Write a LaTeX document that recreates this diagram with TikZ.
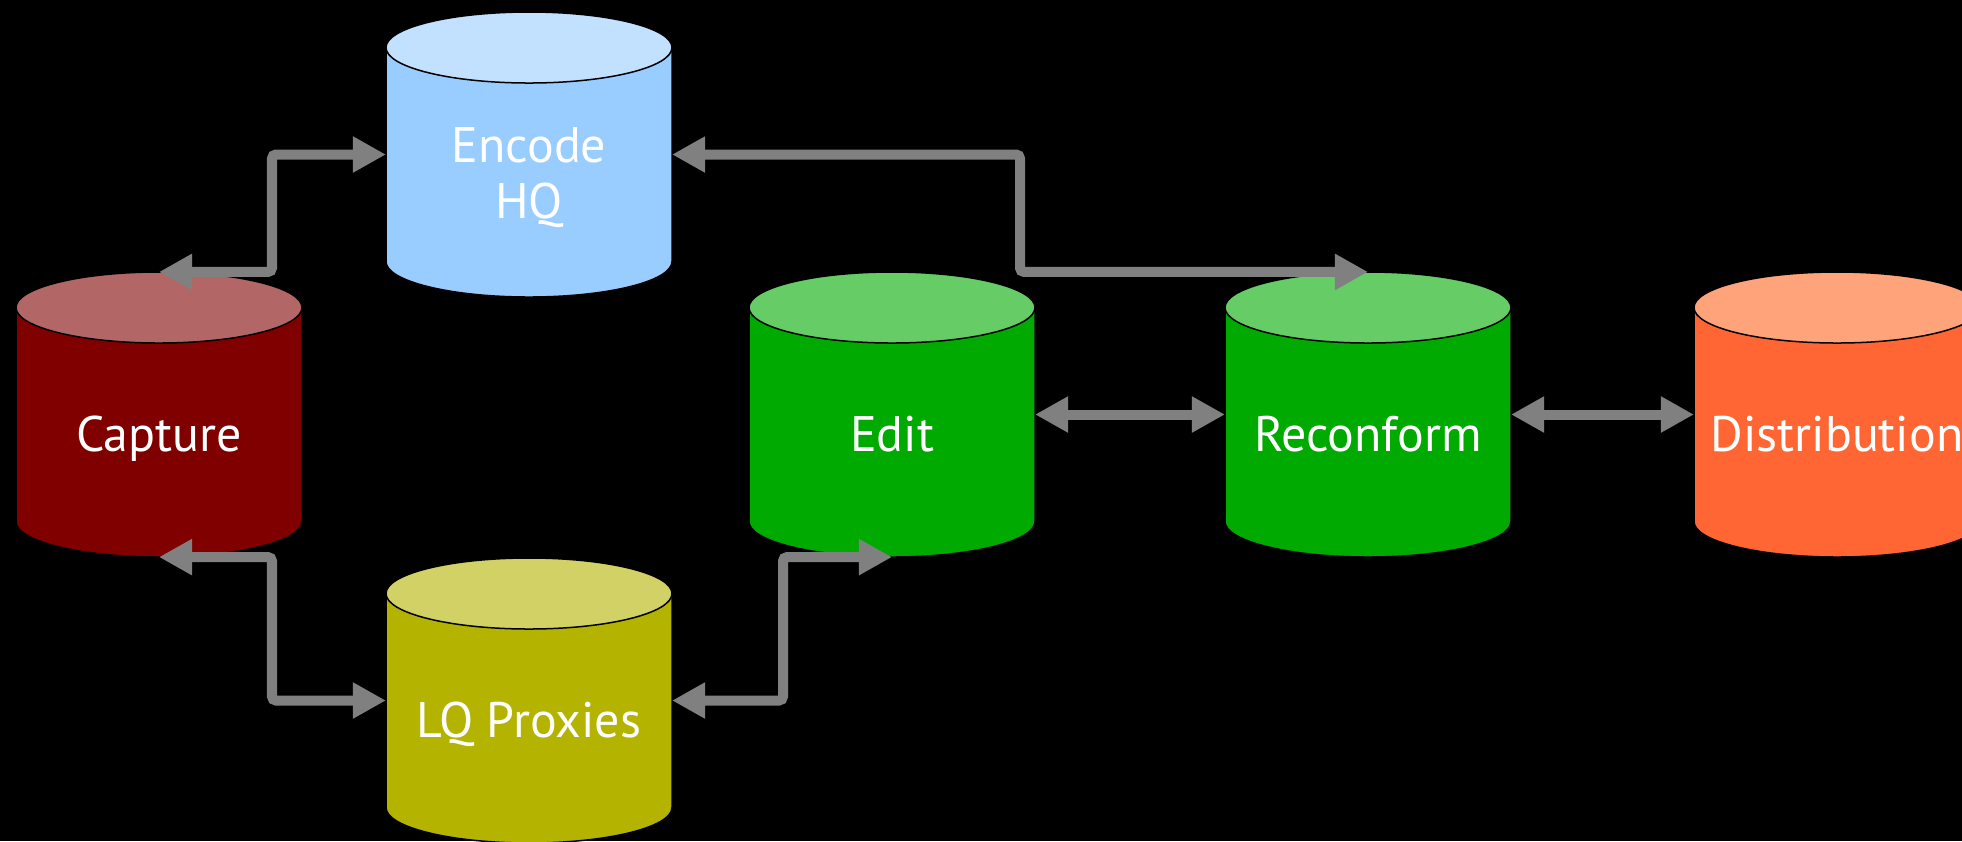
\documentclass[tikz,border=0pt]{standalone}
\usepackage{fontspec}
\setmainfont{PT Sans}
\usetikzlibrary{arrows.meta,calc}

\definecolor{capbody}{HTML}{800000}
\definecolor{captop}{HTML}{B36666}
\definecolor{encbody}{HTML}{99CCFF}
\definecolor{enctop}{HTML}{C2E0FF}
\definecolor{grnbody}{HTML}{00AA00}
\definecolor{grntop}{HTML}{66CC66}
\definecolor{lqbody}{HTML}{B3B300}
\definecolor{lqtop}{HTML}{D1D166}
\definecolor{disbody}{HTML}{FF6633}
\definecolor{distop}{HTML}{FFA37A}
\definecolor{linkgray}{HTML}{808080}

\tikzset{
  drumbox/.style={rectangle, minimum width=2.86cm, minimum height=2.85cm,
    inner sep=0pt, outer sep=0pt},
  drumline/.style={draw=black, line width=0.15mm},
  drumtext/.style={text=white, font=\fontsize{14.2}{15.9}\selectfont,
    anchor=base, align=center, inner sep=0pt},
  link/.style={draw=linkgray, line width=1mm, rounded corners=0.4mm,
    >={Triangle[length=3.3mm,width=3.4mm]}, <->},
}

% #1 name, #2 centre x, #3 top y, #4 body colour, #5 lid colour
\newcommand\drum[5]{%
  \node[drumbox] (#1) at (#2,#3+142.5) {};
  \path[fill=#4, drumline] (#2-143,#3+35.5) -- (#2-143,#3+249.5)
    arc[start angle=180, end angle=0, x radius=143, y radius=35.5]
    -- (#2+143,#3+35.5) -- cycle;
  \path[fill=#5, drumline] (#2,#3+35.5) ellipse[x radius=143, y radius=35.5];
}

\begin{document}
\begin{tikzpicture}[x=0.01cm, y=-0.01cm]
  \fill[black] (0,0) rectangle (1962,841);
  \useasboundingbox (0,0) rectangle (1962,841);
  \clip (0,0) rectangle (1962,841);

  \drum{cap}{159}{272}{capbody}{captop}
  \drum{enc}{529}{12}{encbody}{enctop}
  \drum{lq}{529}{558}{lqbody}{lqtop}
  \drum{edit}{892}{272}{grnbody}{grntop}
  \drum{rec}{1368}{272}{grnbody}{grntop}
  \drum{dist}{1837}{272}{disbody}{distop}

  % labels, placed on the baseline of their last line
  \node[drumtext] (cap-t)  at (159,451)  {Capture};
  \node[drumtext] (enc-t)  at (529,218)  {Encode\\HQ};
  \node[drumtext] (lq-t)   at (529,737)  {LQ Proxies};
  \node[drumtext] (edit-t) at (892,451)  {Edit};
  \node[drumtext] (rec-t)  at (1368,451) {Reconform};
  \node[drumtext] (dist-t) at (1837,451) {Distribution};

  % bend columns of the elbow connectors
  \coordinate (kL) at (272,0);
  \coordinate (kM) at (783,0);
  \coordinate (kR) at (1020,0);

  \draw[link] (cap.north) -- (cap.north -| kL) |- (enc.west);
  \draw[link] (cap.south) -- (cap.south -| kL) |- (lq.west);
  \draw[link] (lq.east) -- (lq.east -| kM) |- (edit.south);
  \draw[link] (enc.east) -- (enc.east -| kR) |- (rec.north);
  \draw[link] (edit.east) -- (rec.west);
  \draw[link] (rec.east) -- (dist.west);
\end{tikzpicture}
\end{document}
